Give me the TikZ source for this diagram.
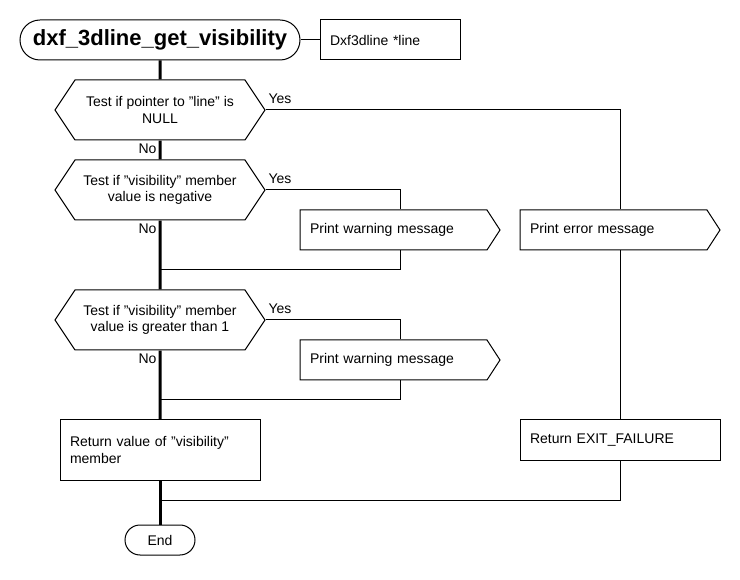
\documentclass[tikz,border=0pt]{standalone}
\usepackage{fontspec}
\setmainfont{Liberation Sans}
\usetikzlibrary{shapes.symbols}
\newcommand\dq{\char34\relax}

\begin{document}
\begin{tikzpicture}[x=1pt,y=-1pt,
    every node/.style={font=\fontsize{14}{16.5}\selectfont,line width=1pt},
    terminal/.style={draw,rounded corners=#1,inner sep=0pt},
    decision/.style={draw,signal,signal to=east and west,signal pointer angle=112.6,
      minimum width=210pt,minimum height=60pt,inner sep=0pt,align=center},
    output/.style={draw,signal,signal to=east,signal pointer angle=114,
      minimum height=40pt,inner xsep=10pt,inner ysep=0pt,text width=167pt,align=left},
    process/.style={draw,rectangle,inner sep=0pt,text width=#1,align=left},
    thin/.style={line width=1pt},
    flow/.style={line width=3pt}]
  \useasboundingbox (0,0) rectangle (740,580);
  \draw
    (160,40) node[terminal=20pt,minimum width=280pt,minimum height=40pt,
      font=\fontsize{22}{26}\bfseries] (title){dxf\_3dline\_get\_visibility}
    (390,40) node[process=120pt,minimum width=140pt,minimum height=40pt] (param){Dxf3dline *line}
    (160,110) node[decision] (test1){Test if pointer to \dq line\dq{} is\\NULL}
    (160,190) node[decision] (test2){Test if \dq visibility\dq{} member\\value is negative}
    (160,320) node[decision] (test3){Test if \dq visibility\dq{} member\\value is greater than 1}
    (393.5,230) node[output] (warn1){Print warning message}
    (393.5,360) node[output] (warn2){Print warning message}
    (613.5,230) node[output] (err){Print error message}
    (160,450) node[process=180pt,minimum width=200pt,minimum height=60pt] (ret){Return value of \dq visibility\dq\\member}
    (620,440) node[process=180pt,minimum width=200pt,minimum height=40pt] (fail){Return EXIT\_FAILURE}
    (160,540) node[terminal=15pt,minimum width=70pt,minimum height=30pt] (end){End};
  \coordinate (j1) at (160,270);
  \coordinate (j2) at (160,400);
  \coordinate (j3) at (160,500);
  \node[anchor=west,inner sep=0pt] (yes1) at (268,99) {Yes};
  \node[anchor=west,inner sep=0pt] (yes2) at (268,179) {Yes};
  \node[anchor=west,inner sep=0pt] (yes3) at (268,309) {Yes};
  \node[anchor=east,inner sep=0pt] (no1) at (157,149) {No};
  \node[anchor=east,inner sep=0pt] (no2) at (157,229) {No};
  \node[anchor=east,inner sep=0pt] (no3) at (157,359) {No};
  \begin{scope}[thin]
    \draw (title) -- (param);
    \draw (test1.east) -| ([xshift=6.5pt]err.north);
    \draw ([xshift=6.5pt]err.south) -- (fail.north);
    \draw (fail.south) |- (j3);
    \draw (test2.east) -| ([xshift=6.5pt]warn1.north);
    \draw ([xshift=6.5pt]warn1.south) |- (j1);
    \draw (test3.east) -| ([xshift=6.5pt]warn2.north);
    \draw ([xshift=6.5pt]warn2.south) |- (j2);
  \end{scope}
  \begin{scope}[flow]
    \draw (title) -- (test1);
    \draw (test1) -- (test2);
    \draw (test2) -- (test3);
    \draw (test3) -- (ret);
    \draw (ret) -- (end);
  \end{scope}
\end{tikzpicture}
\end{document}
